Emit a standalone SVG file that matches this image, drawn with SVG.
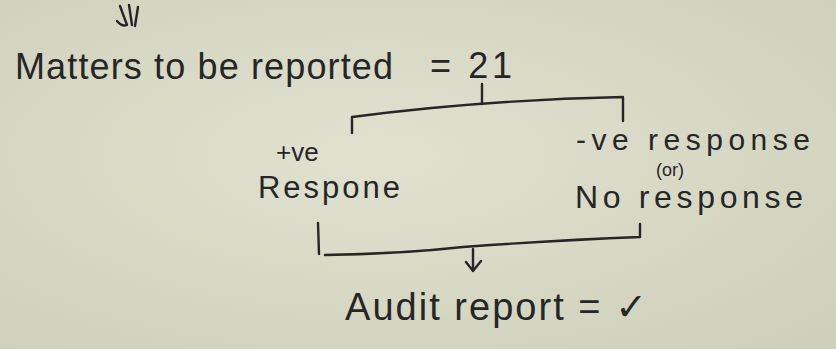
<svg xmlns="http://www.w3.org/2000/svg" width="836" height="349" viewBox="0 0 836 349">
  <defs>
    <radialGradient id="paper" cx="0.45" cy="0.45" r="0.75">
      <stop offset="0" stop-color="#e0e1cf"/>
      <stop offset="1" stop-color="#cfd0bb"/>
    </radialGradient>
    <style>
      .ink { fill: #262626; font-family: "Liberation Sans", "DejaVu Sans", sans-serif; }
      .line { stroke: #262626; stroke-width: 2.4; fill: none; stroke-linecap: round; stroke-linejoin: round; }
    </style>
  </defs>
  <rect width="836" height="349" fill="url(#paper)"/>

  <g id="mark">
    <path class="line" d="M120 6 L127 25 Q122 27 117 21 M129 5 L132 25 M138 7 L135 26"/>
  </g>

  <g id="title">
    <text class="ink" x="15" y="79" font-size="36" textLength="378" lengthAdjust="spacing">Matters to be reported</text>
    <text class="ink" x="430" y="78" font-size="36" textLength="82" lengthAdjust="spacing">= 21</text>
  </g>

  <g id="positive">
    <text class="ink" x="276" y="161" font-size="26">+ve</text>
    <text class="ink" x="258" y="198" font-size="31" textLength="142" lengthAdjust="spacing">Respone</text>
  </g>

  <g id="negative">
    <text class="ink" x="576" y="150" font-size="30" textLength="234" lengthAdjust="spacing">-ve response</text>
    <text class="ink" x="656" y="176" font-size="18">(or)</text>
    <text class="ink" x="575" y="208" font-size="32" textLength="228" lengthAdjust="spacing">No response</text>
  </g>

  <g id="audit">
    <text class="ink" x="345" y="320" font-size="38" textLength="302" lengthAdjust="spacing">Audit report = ✓</text>
  </g>

  <g id="connectors">
    <path class="line" d="M482 84 L482 104"/>
    <path class="line" d="M352 133 L352 117 Q480 100 623 97 L623 121"/>
    <path class="line" d="M318 223 L319 254"/>
    <path class="line" d="M325 255 Q400 254 463 247 Q560 240 640 237 L640 224"/>
    <path class="line" d="M473 249 L473 271 M466 262 L473 271 L481 261"/>
  </g>
</svg>
